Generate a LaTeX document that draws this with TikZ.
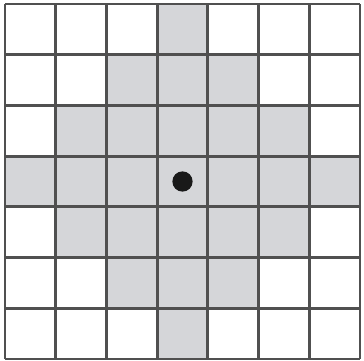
\documentclass[tikz,border=0pt]{standalone}
\usepackage{tikz}
\definecolor{cellgray}{RGB}{213,214,217}
\definecolor{linegray}{RGB}{80,80,80}
\begin{document}
\begin{tikzpicture}[scale=1]
    \useasboundingbox (-0.1,-0.04) rectangle (7.08,7.08);

    % Cells within distance 3 of the centre (diamond)
    \foreach \i in {0,...,6} {
        \foreach \j in {0,...,6} {
            \pgfmathtruncatemacro{\dist}{abs(\i-3)+abs(\j-3)}
            \ifnum\dist<4
                \fill[cellgray] (\i,\j) rectangle ++(1,1);
            \fi
        }
    }

    % Grid lines
    \draw[linegray, line width=1.6pt] (0,0) grid (7,7);

    % Centre point
    \coordinate (c) at (3.5,3.5);
    \fill[black!90] (c) circle (0.2);
\end{tikzpicture}
\end{document}
